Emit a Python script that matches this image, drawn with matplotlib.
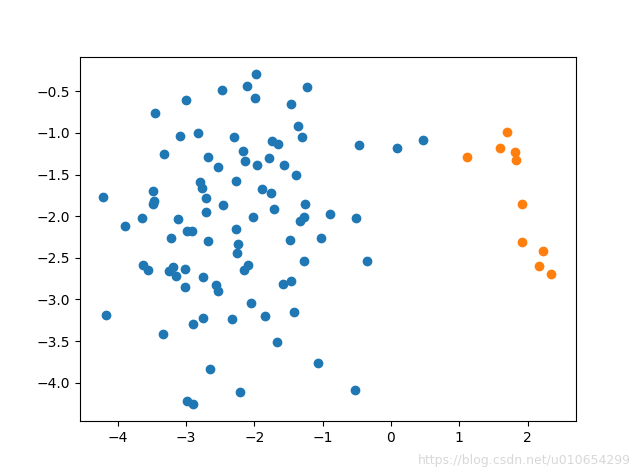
import matplotlib
matplotlib.use("Agg")
import matplotlib.pyplot as plt

blue_x = [-2.471, -2.114, -2.997, -3.450, -3.085, -2.822, -2.295, -2.164, -2.139, -3.319,
          -2.675, -2.529, -2.266, -2.792, -2.763, -3.480, -3.469, -3.484, -2.705, -2.456,
          -4.211, -2.705, -3.645, -3.889, -3.114, -2.982, -2.909, -3.216, -2.675, -2.266,
          -2.237, -1.974, -1.228, -1.988, -1.462, -1.360, -1.301, -1.744, -1.652, -0.468,
          0.088, -1.959, -1.784, -1.564, -1.389, -1.890, -1.754, -1.257, -1.711, -2.018,
          -0.896, -0.512, -1.272, -1.330, -1.477, -1.023, -2.251, -3.630, -3.553, -3.187,
          -3.243, -3.152, -3.012, -2.749, -2.563, -2.529, -3.012, -2.091, -2.154, -2.051,
          -4.167, -3.333, -2.895, -2.749, -2.325, -2.646, -2.208, -2.982, -2.904, -1.272,
          -0.355, -1.583, -1.466, -1.846, -1.423, -1.667, -1.072, -0.531, 0.463]
blue_y = [-0.484, -0.436, -0.604, -0.756, -1.036, -1.000, -1.048, -1.216, -1.336, -1.252,
          -1.288, -1.408, -1.576, -1.585, -1.660, -1.696, -1.819, -1.855, -1.780, -1.864,
          -1.768, -1.948, -2.020, -2.116, -2.037, -2.176, -2.176, -2.261, -2.293, -2.152,
          -2.337, -0.288, -0.448, -0.580, -0.652, -0.916, -1.048, -1.092, -1.132, -1.144,
          -1.176, -1.384, -1.297, -1.384, -1.504, -1.669, -1.720, -1.849, -1.912, -2.008,
          -1.969, -2.020, -2.005, -2.056, -2.281, -2.261, -2.441, -2.581, -2.645, -2.609,
          -2.659, -2.713, -2.629, -2.725, -2.821, -2.893, -2.849, -2.581, -2.649, -3.041,
          -3.185, -3.413, -3.301, -3.221, -3.233, -3.833, -4.106, -4.226, -4.253, -2.537,
          -2.537, -2.813, -2.777, -3.205, -3.149, -3.509, -3.761, -4.082, -1.084]

orange_x = [1.692, 1.594, 1.808, 1.827, 1.111, 1.915, 1.915, 2.232, 2.164, 2.339]
orange_y = [-0.988, -1.180, -1.224, -1.324, -1.288, -1.852, -2.308, -2.417, -2.593, -2.689]

fig = plt.figure(figsize=(6.4, 4.73), dpi=100)
ax = fig.add_subplot(111)
ax.scatter(blue_x, blue_y)
ax.scatter(orange_x, orange_y)
ax.set_xlim(-4.551, 2.708)
ax.set_ylim(-4.46, -0.085)
fig.text(0.985, 0.012, "https://blog.csdn.net/u010654299", ha="right", va="bottom",
         color="#d8d8d8", fontsize=9)
fig.savefig("out.png", dpi=100)
